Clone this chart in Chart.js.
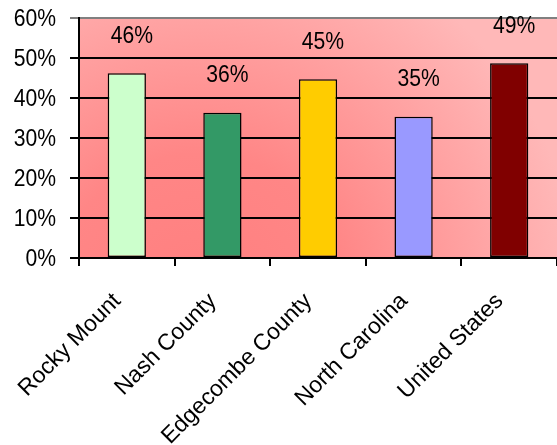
<!DOCTYPE html>
<html>
<head>
<meta charset="utf-8">
<script src="https://cdn.jsdelivr.net/npm/chart.js@4"></script>
<style>
  html, body { margin: 0; padding: 0; background: #fff; }
  #wrap { width: 557px; height: 445px; }
</style>
</head>
<body>
<div id="wrap"><canvas id="c" width="557" height="445"></canvas></div>
<script>
// données
const categories = ['Rocky Mount', 'Nash County', 'Edgecombe County', 'North Carolina', 'United States'];
const values = [46.2, 36.3, 44.7, 35.3, 48.7];
const valueLabels = ['46%', '36%', '45%', '35%', '49%'];
const barColors = ['#ccffcc', '#339966', '#ffcc00', '#9999ff', '#800000'];

const FONT = "'Liberation Sans', Arial, sans-serif";
const SQUEEZE = 0.88; // texte un peu condensé comme sur l'original

// fond dégradé de la zone de tracé
const plotBackground = {
  id: 'plotBackground',
  beforeDraw(chart) {
    const { ctx, chartArea: a } = chart;
    const g = ctx.createRadialGradient(a.left + 120, a.bottom + 40, 0, a.left + 120, a.bottom + 40, 380);
    g.addColorStop(0, '#ff7f7f');
    g.addColorStop(0.38, '#ff8686');
    g.addColorStop(1, '#ffb8b8');
    ctx.save();
    ctx.fillStyle = g;
    ctx.fillRect(a.left, a.top, a.right - a.left, a.bottom - a.top);
    ctx.restore();
  }
};

// texte condensé horizontalement
function squeezedText(ctx, text, x, y) {
  ctx.save();
  ctx.translate(x, y);
  ctx.scale(SQUEEZE, 1);
  ctx.fillText(text, 0, 0);
  ctx.restore();
}

// étiquettes : valeurs, axe Y, axe X
const textPlugin = {
  id: 'texts',
  afterDraw(chart) {
    const { ctx } = chart;
    const meta = chart.getDatasetMeta(0);
    const yScale = chart.scales.y;
    const xScale = chart.scales.x;
    ctx.save();
    ctx.fillStyle = '#000';
    ctx.font = '24px ' + FONT;

    // valeurs au-dessus des barres
    ctx.textAlign = 'center';
    ctx.textBaseline = 'middle';
    meta.data.forEach((bar, i) => {
      squeezedText(ctx, valueLabels[i], bar.x + 5, bar.y - 37);
    });

    // graduations Y
    ctx.textAlign = 'right';
    yScale.ticks.forEach(t => {
      squeezedText(ctx, t.value + '%', 56, yScale.getPixelForValue(t.value) + 1);
    });

    // catégories en diagonale
    ctx.font = '23px ' + FONT;
    ctx.textAlign = 'right';
    ctx.textBaseline = 'alphabetic';
    categories.forEach((c, i) => {
      const x = xScale.getPixelForValue(i) - 5;
      ctx.save();
      ctx.translate(x, xScale.top + 44);
      ctx.rotate(-Math.PI / 4);
      ctx.fillText(c, 0, 0);
      ctx.restore();
    });
    ctx.restore();
  }
};

new Chart(document.getElementById('c').getContext('2d'), {
  type: 'bar',
  data: {
    labels: categories,
    datasets: [{
      data: values,
      backgroundColor: barColors,
      borderColor: '#000',
      borderWidth: 1.5,
      borderSkipped: false,
      barPercentage: 0.4,
      categoryPercentage: 1
    }]
  },
  options: {
    responsive: false,
    animation: false,
    layout: { padding: { top: 18, right: 0, left: 0, bottom: 0 } },
    plugins: {
      legend: { display: false },
      tooltip: { enabled: false }
    },
    scales: {
      x: {
        grid: {
          offset: true,
          drawOnChartArea: false,
          drawTicks: true,
          tickLength: 8,
          color: '#000',
          lineWidth: 2
        },
        border: { color: '#000', width: 2 },
        ticks: { color: 'transparent', autoSkip: false, maxRotation: 45, minRotation: 45 },
        afterFit(scale) { scale.height = 187; }
      },
      y: {
        min: 0,
        max: 60,
        grid: {
          color: ctx => ctx.tick.value === 60 ? '#808080' : '#000',
          lineWidth: 2,
          tickLength: 9
        },
        border: { color: '#000', width: 2 },
        ticks: { stepSize: 10, color: 'transparent' },
        afterFit(scale) { scale.width = 79; }
      }
    }
  },
  plugins: [plotBackground, textPlugin]
});
</script>
</body>
</html>
